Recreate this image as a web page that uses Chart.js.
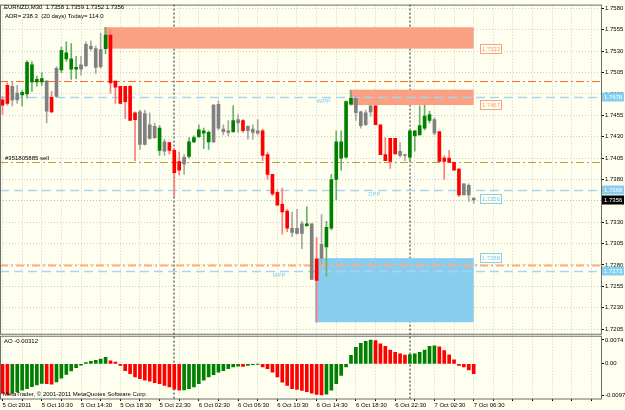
<!DOCTYPE html>
<html>
<head>
<meta charset="utf-8">
<title>EURNZD,M30</title>
<script src="https://cdn.jsdelivr.net/npm/chart.js@4.4.1/dist/chart.umd.min.js"></script>
<style>
	html, body { margin: 0; padding: 0; background: #fffff0; }
	#chartBox { width: 625px; height: 410px; }
</style>
</head>
<body>
<div id="chartBox"><canvas id="myChart" width="625" height="410"></canvas></div>
<script>
// EURNZD M30 bars, 5 Oct 2011 06:30 .. 7 Oct 2011 06:30
var openArr = [
	1.7473,1.7490,1.7473,1.7481,1.7479,1.7480,1.7494,1.7494,1.7494,1.7495,
	1.7476,1.7477,1.7508,1.7521,1.7509,1.7509,1.7514,1.7513,1.7536,1.7533,
	1.7512,1.7533,1.7549,1.7495,1.7489,1.7489,1.7489,1.7458,1.7421,1.7457,
	1.7428,1.7442,1.7414,1.7424,1.7423,1.7414,1.7401,1.7398,1.7407,1.7424,
	1.7430,1.7434,1.7424,1.7424,1.7468,1.7439,1.7437,1.7436,1.7450,1.7449,
	1.7437,1.7439,1.7434,1.7437,1.7409,1.7386,1.7365,1.7351,1.7343,1.7323,
	1.7317,1.7328,1.7326,1.7328,1.7287,1.7288,1.7301,1.7323,1.7380,1.7405,
	1.7406,1.7468,1.7475,1.7459,1.7444,1.7459,1.7466,1.7444,1.7409,1.7428,
	1.7428,1.7413,1.7409,1.7406,1.7431,1.7432,1.7440,1.7449,1.7450,1.7436,
	1.7405,1.7405,1.7400,1.7392,1.7375,1.7373,1.7358
];
var highArr = [
	1.7477,1.7493,1.7494,1.7490,1.7484,1.7519,1.7518,1.7501,1.7505,1.7496,
	1.7483,1.7512,1.7535,1.7541,1.7539,1.7524,1.7524,1.7541,1.7542,1.7536,
	1.7551,1.7558,1.7556,1.7495,1.7489,1.7489,1.7490,1.7459,1.7461,1.7461,
	1.7458,1.7446,1.7443,1.7427,1.7423,1.7416,1.7412,1.7409,1.7429,1.7431,
	1.7444,1.7440,1.7437,1.7468,1.7472,1.7444,1.7449,1.7466,1.7456,1.7450,
	1.7443,1.7444,1.7450,1.7439,1.7412,1.7386,1.7368,1.7370,1.7345,1.7342,
	1.7345,1.7331,1.7348,1.7328,1.7312,1.7339,1.7331,1.7386,1.7437,1.7437,
	1.7472,1.7484,1.7477,1.7460,1.7461,1.7467,1.7466,1.7444,1.7429,1.7428,
	1.7428,1.7423,1.7409,1.7438,1.7437,1.7466,1.7467,1.7460,1.7452,1.7436,
	1.7408,1.7414,1.7400,1.7393,1.7375,1.7375,1.7359
];
var lowArr = [
	1.7456,1.7467,1.7466,1.7469,1.7466,1.7475,1.7483,1.7489,1.7490,1.7446,
	1.7458,1.7476,1.7505,1.7518,1.7497,1.7498,1.7502,1.7512,1.7531,1.7504,
	1.7510,1.7527,1.7481,1.7469,1.7469,1.7451,1.7449,1.7402,1.7415,1.7420,
	1.7427,1.7428,1.7408,1.7408,1.7410,1.7360,1.7385,1.7386,1.7405,1.7423,
	1.7429,1.7416,1.7415,1.7423,1.7438,1.7432,1.7431,1.7435,1.7435,1.7435,
	1.7427,1.7427,1.7432,1.7402,1.7380,1.7361,1.7350,1.7316,1.7319,1.7313,
	1.7316,1.7299,1.7325,1.7263,1.7213,1.7281,1.7267,1.7321,1.7356,1.7391,
	1.7405,1.7467,1.7449,1.7440,1.7443,1.7454,1.7444,1.7409,1.7402,1.7393,
	1.7410,1.7406,1.7402,1.7402,1.7413,1.7432,1.7438,1.7446,1.7432,1.7401,
	1.7380,1.7400,1.7391,1.7360,1.7362,1.7354,1.7352
];
var closeArr = [
	1.7467,1.7469,1.7489,1.7473,1.7482,1.7517,1.7514,1.7497,1.7498,1.7460,
	1.7459,1.7510,1.7531,1.7528,1.7521,1.7511,1.7509,1.7538,1.7533,1.7511,
	1.7532,1.7549,1.7493,1.7488,1.7469,1.7471,1.7449,1.7450,1.7459,1.7421,
	1.7444,1.7429,1.7440,1.7413,1.7414,1.7388,1.7391,1.7406,1.7424,1.7429,
	1.7438,1.7437,1.7435,1.7467,1.7440,1.7436,1.7435,1.7449,1.7446,1.7437,
	1.7442,1.7435,1.7437,1.7408,1.7386,1.7363,1.7350,1.7342,1.7323,1.7318,
	1.7323,1.7317,1.7328,1.7263,1.7262,1.7304,1.7324,1.7380,1.7424,1.7424,
	1.7471,1.7475,1.7458,1.7443,1.7458,1.7466,1.7444,1.7409,1.7402,1.7401,
	1.7410,1.7408,1.7408,1.7437,1.7437,1.7443,1.7454,1.7456,1.7434,1.7401,
	1.7401,1.7400,1.7391,1.7362,1.7362,1.7362,1.7356
];
// bar colouring: g = up, r = down, n = neutral
var barTrend = ('rrnngggggn' + 'rnggggnnnn' + 'ngrrrrrrnn' + 'nngnrrrngg' + 'gggnnnngnr' +
	'nnnrrrrrrn' + 'nngnrngggg' + 'ggnnnnrrrr' + 'rnngggggnr' + 'rrrrnnn').split('');

// Awesome Oscillator
var aoArr = [
	-0.0092,-0.0095,-0.0091,-0.0087,-0.0082,-0.0077,-0.0071,-0.0066,-0.0061,-0.0062,
	-0.0063,-0.0056,-0.0045,-0.0033,-0.0022,-0.0012,-0.0004,0.0004,0.0008,0.0011,
	0.0015,0.0020,0.0009,0.0005,-0.0005,-0.0021,-0.0031,-0.0041,-0.0046,-0.0051,
	-0.0054,-0.0059,-0.0062,-0.0067,-0.0072,-0.0079,-0.0082,-0.0081,-0.0077,-0.0072,
	-0.0062,-0.0051,-0.0041,-0.0034,-0.0026,-0.0021,-0.0015,-0.0010,-0.0007,-0.0008,
	-0.0005,-0.0003,-0.0001,-0.0010,-0.0015,-0.0026,-0.0041,-0.0057,-0.0067,-0.0077,
	-0.0080,-0.0083,-0.0087,-0.0091,-0.0095,-0.0097,-0.0094,-0.0082,-0.0062,-0.0036,
	-0.0010,0.0026,0.0051,0.0064,0.0070,0.0074,0.0072,0.0062,0.0054,0.0043,
	0.0036,0.0031,0.0027,0.0029,0.0031,0.0036,0.0043,0.0054,0.0056,0.0053,
	0.0041,0.0028,0.0012,-0.0005,-0.0010,-0.0019,-0.0031
];

var timeLabels = ['5 Oct 2011','5 Oct 10:30','5 Oct 14:30','5 Oct 18:30','5 Oct 22:30','6 Oct 02:30',
	'6 Oct 06:30','6 Oct 10:30','6 Oct 14:30','6 Oct 18:30','6 Oct 22:30','7 Oct 02:30','7 Oct 06:30'];
var priceTicks = [1.7580,1.7555,1.7530,1.7505,1.7480,1.7455,1.7430,1.7405,1.7380,1.7355,1.7330,1.7305,1.7280,1.7255,1.7230,1.7205];
var aoTicks = [0.0074, 0, -0.00971];
var aoTickText = ['0.0074', '0.00', '-0.00971'];
var dayBreaks = [35, 83];

// supply / demand zones (bar index from..to, price high..low)
var zoneFrom = [21, 71, 64];
var zoneTo = [96, 96, 96];
var zoneHigh = [1.7558, 1.7485, 1.7288];
var zoneLow = [1.7533, 1.7467, 1.7213];
var zoneKind = ['supply', 'supply', 'demand'];

// horizontal levels
var levelNames = ['res', 'WPP', 'sell', 'DPP', 'bid', 'sup', 'MPP'];
var levelPrices = [1.7495, 1.7476, 1.7401, 1.7368, 1.7356, 1.7280, 1.7273];

var lastBar = { open: 1.7358, high: 1.7359, low: 1.7352, close: 1.7356 };
var aoLast = -0.00312;

var myChart;
var _font = 'Liberation Sans';
var _bodyColors = { g: '#008000', r: '#ff0000', n: '#808080' };
var _wickColors = { g: '#69b169', r: '#ff7c7c', n: '#a8a8a8' };
var _levelStyle = {
	res:  { color: '#ff6a2a', width: 1.2, dash: [8, 3, 2, 3] },
	WPP:  { color: '#a6d6ee', width: 1.3, dash: [9, 5] },
	sell: { color: '#c29a3c', width: 1.2, dash: [8, 3, 2, 3] },
	DPP:  { color: '#a6d6ee', width: 1.3, dash: [9, 5] },
	bid:  { color: '#bdbdbd', width: 1, dash: [1, 2] },
	sup:  { color: '#ffac80', width: 1.8, dash: [8, 3, 2, 3] },
	MPP:  { color: '#a6d6ee', width: 1.3, dash: [9, 5] }
};
var _pivotTextAt = { WPP: 64, DPP: 74.5, MPP: 55 };
var _datasets = [];

function _text(ctx, str, x, y, color, size) {
	ctx.font = (size || 6) + 'px "' + _font + '"';
	ctx.fillStyle = color;
	ctx.textAlign = 'left';
	ctx.textBaseline = 'middle';
	ctx.fillText(str, x, y);
}

var overlayPlugin = {
	id: 'overlay',
	beforeDraw: function(chart) {
		var ctx = chart.ctx;
		ctx.save();
		ctx.fillStyle = '#fffff0';
		ctx.fillRect(0, 0, chart.width, chart.height);
		ctx.restore();
	},
	beforeDatasetsDraw: function(chart) {
		var ctx = chart.ctx, xs = chart.scales.x, ys = chart.scales.y;
		var a = chart.chartArea;
		ctx.save();

		// day separators
		ctx.strokeStyle = '#6a6a6a';
		ctx.lineWidth = 1.5;
		ctx.setLineDash([2, 2]);
		dayBreaks.forEach(function(i) {
			var x = Math.round(xs.getPixelForValue(i));
			ctx.beginPath();
			ctx.moveTo(x, a.top);
			ctx.lineTo(x, a.bottom);
			ctx.stroke();
		});

		ctx.beginPath();
		ctx.rect(a.left, ys.top, a.right - a.left, ys.bottom - ys.top);
		ctx.clip();

		ctx.setLineDash([]);
		for (var k = 0; k < zoneFrom.length; k++) {
			var x1 = xs.getPixelForValue(zoneFrom[k]) - 1.5;
			var x2 = xs.getPixelForValue(zoneTo[k]);
			var y1 = ys.getPixelForValue(zoneHigh[k]);
			var y2 = ys.getPixelForValue(zoneLow[k]);
			ctx.fillStyle = zoneKind[k] == 'supply' ? '#f9a182' : '#88cdee';
			ctx.fillRect(x1, y1, x2 - x1, y2 - y1);
		}

		for (var j = 0; j < levelNames.length; j++) {
			var st = _levelStyle[levelNames[j]];
			var y = Math.round(ys.getPixelForValue(levelPrices[j])) + 0.5;
			ctx.strokeStyle = st.color;
			ctx.lineWidth = st.width;
			ctx.setLineDash(st.dash);
			ctx.beginPath();
			ctx.moveTo(a.left, y);
			ctx.lineTo(a.right, y);
			ctx.stroke();

			if (_pivotTextAt[levelNames[j]] !== undefined) {
				_text(ctx, levelNames[j], xs.getPixelForValue(_pivotTextAt[levelNames[j]]), y + 4, '#8ccbea');
			}
			if (levelNames[j] == 'sell') {
				_text(ctx, '#351805885 sell', 5, y - 4, '#000000');
			}
		}
		ctx.restore();
	},
	afterDraw: function(chart) {
		var ctx = chart.ctx, xs = chart.scales.x, ys = chart.scales.y, ao = chart.scales.ao;
		var a = chart.chartArea;
		ctx.save();

		// pane frames
		ctx.setLineDash([]);
		ctx.strokeStyle = '#6e6e6e';
		ctx.lineWidth = 1;
		ctx.strokeRect(a.left + 0.5, a.top + 0.5, a.right - a.left, ys.bottom - a.top - 1);
		ctx.strokeRect(a.left + 0.5, ao.top + 1.5, a.right - a.left, a.bottom - ao.top - 1.5);

		// zone price tags
		for (var k = 0; k < zoneFrom.length; k++) {
			var p = zoneKind[k] == 'supply' ? zoneLow[k] : zoneHigh[k];
			var col = zoneKind[k] == 'supply' ? '#f9a182' : '#88cdee';
			var tx = xs.getPixelForValue(zoneTo[k]) + 6;
			var ty = Math.round(ys.getPixelForValue(p));
			ctx.strokeStyle = col;
			ctx.strokeRect(Math.round(tx) + 0.5, ty - 4.5, 21, 9);
			_text(ctx, p.toFixed(4), tx + 2, ty, col);
		}
		var bidY = Math.round(ys.getPixelForValue(lastBar.close)) - 1;
		var bx = xs.getPixelForValue(96) + 6;
		ctx.strokeStyle = '#88cdee';
		ctx.strokeRect(Math.round(bx) + 0.5, bidY - 4.5, 21, 9);
		_text(ctx, lastBar.close.toFixed(4), bx + 2, bidY, '#88cdee');

		// right axis price boxes
		for (var j = 0; j < levelNames.length; j++) {
			var n = levelNames[j];
			if (n != 'WPP' && n != 'DPP' && n != 'MPP' && n != 'bid') continue;
			var y = Math.round(ys.getPixelForValue(levelPrices[j]));
			ctx.fillStyle = n == 'bid' ? '#000000' : '#87cdee';
			ctx.fillRect(a.right + 1, y - 4.5, 22, 9);
			_text(ctx, levelPrices[j].toFixed(4), a.right + 3, y, '#ffffff');
		}

		// captions
		_text(ctx, 'EURNZD,M30  ' + lastBar.open.toFixed(4) + ' ' + lastBar.high.toFixed(4) + ' ' +
			lastBar.low.toFixed(4) + ' ' + lastBar.close.toFixed(4), 4, 7, '#000000');
		_text(ctx, 'ADR= 238.3  (20 days) Today= 114.0', 5, 16, '#000000');
		_text(ctx, 'AO ' + aoLast.toFixed(5), 4, ao.top + 7, '#000000');
		_text(ctx, 'MetaTrader, \u00a9 2001-2011 MetaQuotes Software Corp.', 3, a.bottom - 5, '#000000');
		ctx.restore();
	}
};

function _setDatasets() {
	var wicks = [], bodies = [], aoBars = [];
	var wickCol = [], bodyCol = [], aoCol = [];

	for (var i = 0; i < openArr.length; i++) {
		wicks.push({ x: i, y: [lowArr[i], highArr[i]] });
		bodies.push({ x: i, y: [openArr[i], closeArr[i]] });
		wickCol.push(_wickColors[barTrend[i]]);
		bodyCol.push(_bodyColors[barTrend[i]]);
		aoBars.push({ x: i, y: aoArr[i] });
		aoCol.push(i > 0 && aoArr[i] > aoArr[i - 1] ? '#008000' : '#ff0000');
	}

	_datasets = [
		{ data: wicks, yAxisID: 'y', backgroundColor: wickCol, barThickness: 1, grouped: false, order: 3 },
		{ data: bodies, yAxisID: 'y', backgroundColor: bodyCol, barThickness: 3, minBarLength: 1, grouped: false, order: 2 },
		{ data: aoBars, yAxisID: 'ao', backgroundColor: aoCol, barThickness: 3, grouped: false, order: 1 }
	];
}

function createChart(id) {
	var ctx = document.getElementById(id);
	var tickFont = { family: _font, size: 6 };

	myChart = new Chart(ctx, {
		type: 'bar',
		data: { datasets: _datasets },
		plugins: [overlayPlugin],
		options: {
			responsive: false,
			animation: false,
			layout: { padding: 0, autoPadding: false },
			plugins: { legend: { display: false }, tooltip: { enabled: false } },
			scales: {
				x: {
					type: 'linear',
					position: 'bottom',
					min: -0.51,
					max: 121.94,
					offset: false,
					afterBuildTicks: function(s) {
						var t = [];
						for (var v = 0; v <= 120; v += 4) t.push({ value: v });
						s.ticks = t;
					},
					afterFit: function(s) { s.height = 11; },
					grid: { color: '#cfcfcf', offset: false, tickLength: 2, tickColor: '#000000' },
					border: { display: false, dash: [1, 2] },
					ticks: {
						autoSkip: false, maxRotation: 0, minRotation: 0, align: 'start', padding: 1,
						font: tickFont, color: '#000000',
						callback: function(v) {
							return (v % 8 == 0 && v / 8 < timeLabels.length) ? timeLabels[v / 8] : '';
						}
					}
				},
				y: {
					type: 'linear',
					position: 'right',
					stack: 'panes',
					stackWeight: 334,
					min: 1.71984,
					max: 1.75845,
					afterBuildTicks: function(s) {
						s.ticks = priceTicks.map(function(v) { return { value: v }; });
					},
					afterFit: function(s) { s.width = 24; },
					grid: { color: '#cfcfcf', tickLength: 3, tickColor: '#000000' },
					border: { display: false, dash: [1, 2] },
					ticks: {
						padding: 1, font: tickFont, color: '#000000',
						callback: function(v) { return v.toFixed(4); }
					}
				},
				ao: {
					type: 'linear',
					position: 'right',
					stack: 'panes',
					stackWeight: 65,
					min: -0.01094,
					max: 0.00903,
					afterBuildTicks: function(s) {
						s.ticks = aoTicks.map(function(v) { return { value: v }; });
					},
					afterFit: function(s) { s.width = 24; },
					grid: { drawOnChartArea: false, tickLength: 3, tickColor: '#000000' },
					border: { display: false },
					ticks: {
						padding: 1, font: tickFont, color: '#000000',
						callback: function(v, i) { return aoTickText[i]; }
					}
				}
			}
		}
	});
}

_setDatasets();
createChart('myChart');
</script>
</body>
</html>
